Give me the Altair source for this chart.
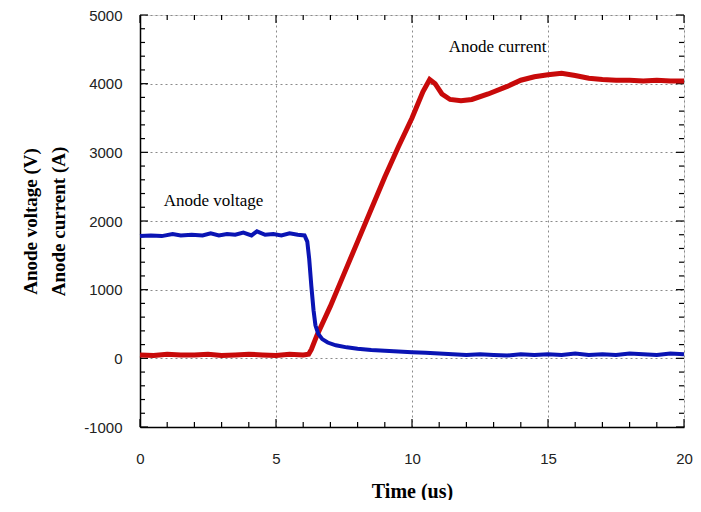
import altair as alt
import pandas as pd

# ---- data ----
volt_t = [0, 0.4, 0.8, 1.2, 1.5, 1.9, 2.3, 2.6, 2.9, 3.2, 3.5, 3.8, 4.1, 4.3, 4.6, 4.9, 5.2, 5.5, 5.8, 6.05,
          6.15, 6.22, 6.3, 6.38, 6.45, 6.55, 6.7, 6.9, 7.2, 7.6, 8.0, 8.5, 9.0, 9.5, 10.0, 10.5, 11.0, 11.5,
          12.0, 12.5, 13.0, 13.5, 14.0, 14.5, 15.0, 15.5, 16.0, 16.5, 17.0, 17.5, 18.0, 18.5, 19.0, 19.5, 20.0]
volt_v = [1780, 1790, 1780, 1810, 1790, 1800, 1790, 1820, 1790, 1810, 1800, 1830, 1790, 1850, 1800, 1810, 1790, 1820, 1800, 1790,
          1700, 1450, 1050, 700, 480, 360, 280, 230, 190, 160, 140, 120, 110, 100, 90, 80, 70, 60,
          50, 60, 50, 40, 60, 50, 60, 50, 70, 50, 60, 50, 70, 60, 50, 70, 60]

curr_t = [0, 0.5, 1.0, 1.5, 2.0, 2.5, 3.0, 3.5, 4.0, 4.5, 5.0, 5.5, 6.0, 6.2, 6.3, 6.5, 7.0, 7.5, 8.0, 8.5,
          9.0, 9.5, 10.0, 10.4, 10.65, 10.85, 11.1, 11.4, 11.8, 12.2, 12.8, 13.5, 14.0, 14.5, 15.0, 15.5,
          16.0, 16.5, 17.0, 17.5, 18.0, 18.5, 19.0, 19.5, 20.0]
curr_v = [50, 40, 60, 50, 50, 60, 40, 50, 60, 50, 40, 60, 50, 60, 130, 330, 760, 1230, 1700, 2170,
          2640, 3080, 3500, 3880, 4060, 4000, 3850, 3770, 3750, 3770, 3850, 3960, 4050, 4100, 4130, 4150,
          4120, 4080, 4060, 4050, 4050, 4040, 4050, 4040, 4040]

x_major = [0, 5, 10, 15, 20]
x_minor = [1, 2, 3, 4, 6, 7, 8, 9, 11, 12, 13, 14, 16, 17, 18, 19]
y_major = [-1000, 0, 1000, 2000, 3000, 4000, 5000]
y_minor = [v for v in range(-800, 5000, 200) if v % 1000 != 0]

labels_text = ["Anode voltage", "Anode current"]
labels_x = [0.87, 11.35]
labels_y = [2290, 4530]

W, H = 544, 412
SERIF = "Liberation Serif"
SANS = "Liberation Sans"

volt = pd.DataFrame({"t": volt_t, "v": volt_v})
curr = pd.DataFrame({"t": curr_t, "v": curr_v})

xs = alt.Scale(domain=[0, 20], nice=False)
ys = alt.Scale(domain=[-1000, 5000], nice=False)

xaxis = alt.Axis(values=x_major, labelExpr="'' + datum.value", labelFlush=False, ticks=False,
                 labelFont=SANS, labelFontSize=15, labelColor="#222",
                 labelPadding=24, title="Time (us)", titleFont=SERIF, titleFontSize=20,
                 titleFontWeight="bold", titlePadding=15, titleColor="black",
                 grid=True, gridDash=[2, 3], gridColor="#8a8a8a", gridWidth=1,
                 domainColor="black", domainWidth=1.5)
yaxis = alt.Axis(values=y_major, labelExpr="'' + datum.value", labelFlush=False, ticks=False,
                 labelFont=SANS, labelFontSize=15, labelColor="#222",
                 labelPadding=18, title=["Anode voltage (V)", "Anode current (A)"], titleFont=SERIF,
                 titleFontSize=19, titleFontWeight="bold", titlePadding=15, titleColor="black",
                 titleLineHeight=28,
                 grid=True, gridDash=[2, 3], gridColor="#8a8a8a", gridWidth=1,
                 domainColor="black", domainWidth=1.5)

base_axes = alt.Chart(pd.DataFrame({"t": [0], "v": [0]})).mark_point(opacity=0).encode(
    x=alt.X("t:Q", scale=xs, axis=xaxis),
    y=alt.Y("v:Q", scale=ys, axis=yaxis),
)

volt_line = alt.Chart(volt).mark_line(color="#0a14b4", strokeWidth=4).encode(
    x=alt.X("t:Q", scale=xs), y=alt.Y("v:Q", scale=ys))
curr_line = alt.Chart(curr).mark_line(color="#c80a0a", strokeWidth=5).encode(
    x=alt.X("t:Q", scale=xs), y=alt.Y("v:Q", scale=ys))

def xticks(vals, length):
    df = pd.DataFrame({"t": vals})
    bot = alt.Chart(df).mark_rule(color="black", strokeWidth=1.2).encode(
        x=alt.X("t:Q", scale=xs), y=alt.value(H), y2=alt.value(H - length))
    top = alt.Chart(df).mark_rule(color="black", strokeWidth=1.2).encode(
        x=alt.X("t:Q", scale=xs), y=alt.value(0), y2=alt.value(length))
    return bot + top

def yticks(vals, length):
    df = pd.DataFrame({"v": vals})
    left = alt.Chart(df).mark_rule(color="black", strokeWidth=1.2).encode(
        y=alt.Y("v:Q", scale=ys), x=alt.value(0), x2=alt.value(length))
    right = alt.Chart(df).mark_rule(color="black", strokeWidth=1.2).encode(
        y=alt.Y("v:Q", scale=ys), x=alt.value(W), x2=alt.value(W - length))
    return left + right

labels = alt.Chart(pd.DataFrame({"t": labels_x, "v": labels_y, "s": labels_text})).mark_text(
    font=SERIF, fontSize=17, align="left", baseline="middle", color="black").encode(
    x=alt.X("t:Q", scale=xs), y=alt.Y("v:Q", scale=ys), text="s:N")

chart = alt.layer(
    base_axes, xticks(x_major, 8), xticks(x_minor, 5), yticks(y_major, 8), yticks(y_minor, 5),
    curr_line, volt_line, labels
).properties(
    width=W, height=H,
    autosize=alt.AutoSizeParams(type="none"),
    padding={"left": 132, "top": 7, "right": 9, "bottom": 73},
).configure_view(stroke="black", strokeWidth=1.5).configure(background="white")

chart.save("out.html", embed_options={"renderer": "svg", "actions": False})
